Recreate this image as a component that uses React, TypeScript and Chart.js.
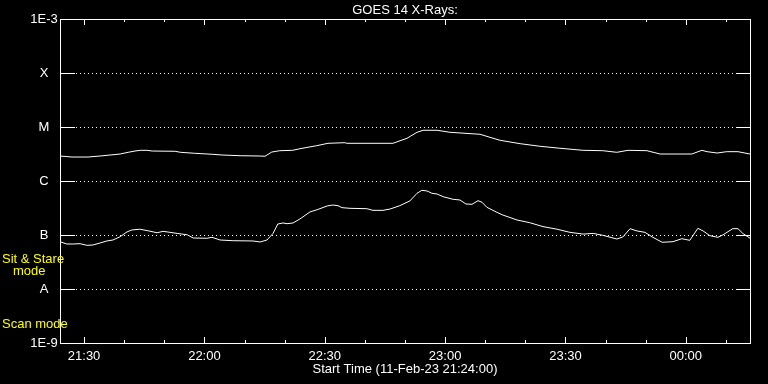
import React, { useEffect, useRef } from "react";
import { Chart, registerables } from "chart.js";

Chart.register(...registerables);

// ---- data ----
const startTime = "21:24";
const endTime = "00:16";
const chartTitle = "GOES 14 X-Rays:";
const xAxisTitle = "Start Time (11-Feb-23 21:24:00)";

const majorTickLabels = ["21:30", "22:00", "22:30", "23:00", "23:30", "00:00"];
const minorTickLabels = ["21:40", "21:50", "22:10", "22:20", "22:40", "22:50", "23:10", "23:20", "23:40", "23:50", "00:10"];

const yTickValues = [1e-9, 1e-8, 1e-7, 1e-6, 1e-5, 1e-4, 1e-3];
const yTickLabels = ["1E-9", "A", "B", "C", "M", "X", "1E-3"];

// upper channel (1-8 A): minutes after start, flux W/m^2
const longMinutes = [0, 3, 7, 10, 12.5, 15, 17, 18.7, 20, 21.7, 23, 28.7, 30, 33.6, 38.1, 40.4, 44.9, 49.9, 51.1, 52.8, 54.8, 58, 59.8, 64, 66.8, 71, 71.5, 83, 86.5, 89, 90.5, 94, 97.2, 104.7, 107.2, 109.7, 114.7, 119.6, 124.6, 130.4, 135.3, 138.8, 141.6, 146.3, 149.6, 157.5, 160, 161.3, 163.8, 166.2, 169, 172];
const longFlux = [2.9e-6, 2.78e-6, 2.78e-6, 2.9e-6, 3.03e-6, 3.16e-6, 3.4e-6, 3.59e-6, 3.7e-6, 3.7e-6, 3.59e-6, 3.55e-6, 3.4e-6, 3.26e-6, 3.12e-6, 3.03e-6, 2.94e-6, 2.9e-6, 2.87e-6, 3.44e-6, 3.64e-6, 3.7e-6, 3.96e-6, 4.51e-6, 4.99e-6, 5.12e-6, 4.99e-6, 4.99e-6, 6.18e-6, 7.98e-6, 8.69e-6, 8.69e-6, 7.98e-6, 7.33e-6, 6.44e-6, 5.67e-6, 4.91e-6, 4.4e-6, 4.04e-6, 3.7e-6, 3.64e-6, 3.4e-6, 3.7e-6, 3.64e-6, 3.16e-6, 3.16e-6, 3.7e-6, 3.49e-6, 3.3e-6, 3.49e-6, 3.49e-6, 3.16e-6];

// lower channel (0.5-4 A)
const shortMinutes = [0, 1.7, 3.2, 5, 6.7, 8.2, 10, 11.7, 13.2, 15, 16.7, 17.9, 19.9, 21.9, 24.2, 25.7, 27.4, 29.2, 31.7, 33.2, 36.6, 37.9, 39.9, 43.1, 48.1, 49.9, 51.6, 53.1, 54.3, 55.6, 56.6, 58.1, 59.8, 62.3, 64.1, 66.6, 68, 69.3, 70.3, 72.3, 76.5, 78, 80.5, 82.3, 84.7, 87.2, 89, 90.2, 91.5, 92.7, 94, 95.5, 98, 99.7, 101.2, 102.7, 104.2, 105.2, 106.4, 108.9, 110.4, 113.9, 117.1, 120.4, 123.9, 127.1, 130.4, 132.9, 135.3, 138.8, 140.3, 142.1, 143.8, 145.8, 147.8, 150.1, 152.8, 155, 157, 159, 160.3, 162, 164, 165.3, 167.7, 169, 170.2, 172];
const shortFlux = [7.52e-8, 6.81e-8, 6.81e-8, 6.9e-8, 6.44e-8, 6.53e-8, 7.11e-8, 7.75e-8, 8.08e-8, 9.3e-8, 1.14e-7, 1.24e-7, 1.28e-7, 1.2e-7, 1.1e-7, 1.17e-7, 1.12e-7, 1.07e-7, 1.01e-7, 8.8e-8, 8.69e-8, 9.06e-8, 8.08e-8, 7.84e-8, 7.75e-8, 7.42e-8, 8.08e-8, 1.07e-7, 1.6e-7, 1.67e-7, 1.62e-7, 1.67e-7, 1.98e-7, 2.67e-7, 2.94e-7, 3.45e-7, 3.59e-7, 3.49e-7, 3.21e-7, 3.12e-7, 3.07e-7, 2.86e-7, 2.86e-7, 3.03e-7, 3.49e-7, 4.27e-7, 5.92e-7, 6.73e-7, 6.53e-7, 5.92e-7, 5.74e-7, 5.12e-7, 4.58e-7, 4.45e-7, 3.75e-7, 3.7e-7, 4.32e-7, 4.04e-7, 3.26e-7, 2.63e-7, 2.34e-7, 1.9e-7, 1.69e-7, 1.43e-7, 1.28e-7, 1.12e-7, 1.04e-7, 1.07e-7, 9.87e-8, 8.43e-8, 9.18e-8, 1.31e-7, 1.19e-7, 1.12e-7, 9.06e-8, 7.33e-8, 7.52e-8, 8.53e-8, 7.97e-8, 1.33e-7, 1.19e-7, 9.71e-8, 9.06e-8, 1.01e-7, 1.31e-7, 1.31e-7, 1.07e-7, 8.69e-8];

const sideNotes = [
  { text: "Sit & Stare", x: 2, y: 259 },
  { text: "mode", x: 13, y: 271 },
  { text: "Scan mode", x: 2, y: 324 },
];

// ---- helpers ----
const toMinutes = (s: string) => {
  const [h, m] = s.split(":").map(Number);
  const [sh, sm] = startTime.split(":").map(Number);
  let v = h * 60 + m - (sh * 60 + sm);
  if (v < 0) v += 1440;
  return v;
};

const FONT = "13px 'Liberation Sans', Arial, sans-serif";

const decoPlugin = {
  id: "deco",
  beforeDraw(chart: any) {
    const ctx = chart.ctx;
    ctx.save();
    ctx.fillStyle = "#000";
    ctx.fillRect(0, 0, chart.width, chart.height);
    ctx.restore();
  },
  beforeDatasetsDraw(chart: any) {
    const { ctx, chartArea: a, scales } = chart;
    const y = scales.y;
    ctx.save();
    ctx.strokeStyle = "#fff";
    ctx.lineWidth = 1;
    ctx.setLineDash([1, 3]);
    yTickValues.forEach((v, i) => {
      if (i === 0 || i === yTickValues.length - 1) return;
      const py = Math.round(y.getPixelForValue(v)) + 0.5;
      ctx.beginPath();
      ctx.moveTo(a.left + 16, py);
      ctx.lineTo(a.right - 14, py);
      ctx.stroke();
    });
    ctx.restore();
  },
  afterDatasetsDraw(chart: any) {
    const { ctx, chartArea: a, scales } = chart;
    const x = scales.x;
    const y = scales.y;
    ctx.save();
    ctx.strokeStyle = "#fff";
    ctx.lineWidth = 1;
    // frame
    ctx.strokeRect(a.left + 0.5, a.top + 0.5, a.right - a.left, a.bottom - a.top);
    // y ticks (solid)
    yTickValues.forEach((v, i) => {
      if (i === 0 || i === yTickValues.length - 1) return;
      const py = Math.round(y.getPixelForValue(v)) + 0.5;
      ctx.beginPath();
      ctx.moveTo(a.left, py);
      ctx.lineTo(a.left + 15, py);
      ctx.moveTo(a.right - 14, py);
      ctx.lineTo(a.right, py);
      ctx.stroke();
    });
    // x ticks
    const drawXTick = (t: string, len: number) => {
      const px = Math.round(x.getPixelForValue(toMinutes(t))) + 0.5;
      ctx.beginPath();
      ctx.moveTo(px, a.bottom);
      ctx.lineTo(px, a.bottom - len);
      ctx.moveTo(px, a.top);
      ctx.lineTo(px, a.top + len);
      ctx.stroke();
    };
    majorTickLabels.forEach((t) => drawXTick(t, 6));
    minorTickLabels.forEach((t) => drawXTick(t, 3));

    // text
    ctx.font = FONT;
    ctx.fillStyle = "#fff";
    ctx.textBaseline = "middle";
    ctx.textAlign = "center";
    majorTickLabels.forEach((t) => {
      const px = x.getPixelForValue(toMinutes(t));
      ctx.fillText(t, px, a.bottom + 13);
    });
    yTickValues.forEach((v, i) => {
      const py = y.getPixelForValue(v);
      ctx.fillText(yTickLabels[i], 44, py);
    });
    ctx.fillText(chartTitle, (a.left + a.right) / 2, 10);
    ctx.fillText(xAxisTitle, (a.left + a.right) / 2, a.bottom + 26);
    ctx.textAlign = "left";
    ctx.fillStyle = "#ffff00";
    sideNotes.forEach((n) => ctx.fillText(n.text, n.x, n.y));
    ctx.restore();
  },
};

export default function App() {
  const ref = useRef<HTMLCanvasElement | null>(null);
  useEffect(() => {
    if (!ref.current) return;
    const chart = new Chart(ref.current, {
      type: "line",
      data: {
        datasets: [
          {
            data: longMinutes.map((t, i) => ({ x: t, y: longFlux[i] })),
            borderColor: "#fff",
            borderWidth: 1,
            pointRadius: 0,
            tension: 0,
            fill: false,
          },
          {
            data: shortMinutes.map((t, i) => ({ x: t, y: shortFlux[i] })),
            borderColor: "#fff",
            borderWidth: 1,
            pointRadius: 0,
            tension: 0,
            fill: false,
          },
        ],
      },
      options: {
        responsive: false,
        animation: false,
        devicePixelRatio: 1,
        layout: { padding: { left: 60, right: 18, top: 19, bottom: 41 } },
        plugins: { legend: { display: false }, tooltip: { enabled: false }, title: { display: false } },
        scales: {
          x: { type: "linear", min: 0, max: toMinutes(endTime), display: false },
          y: { type: "logarithmic", min: yTickValues[0], max: yTickValues[yTickValues.length - 1], display: false },
        },
      },
      plugins: [decoPlugin],
    });
    return () => chart.destroy();
  }, []);
  return (
    <div style={{ position: "fixed", left: 0, top: 0, width: 768, height: 384, background: "#000" }}>
      <canvas ref={ref} width={768} height={384} style={{ display: "block" }} />
    </div>
  );
}
